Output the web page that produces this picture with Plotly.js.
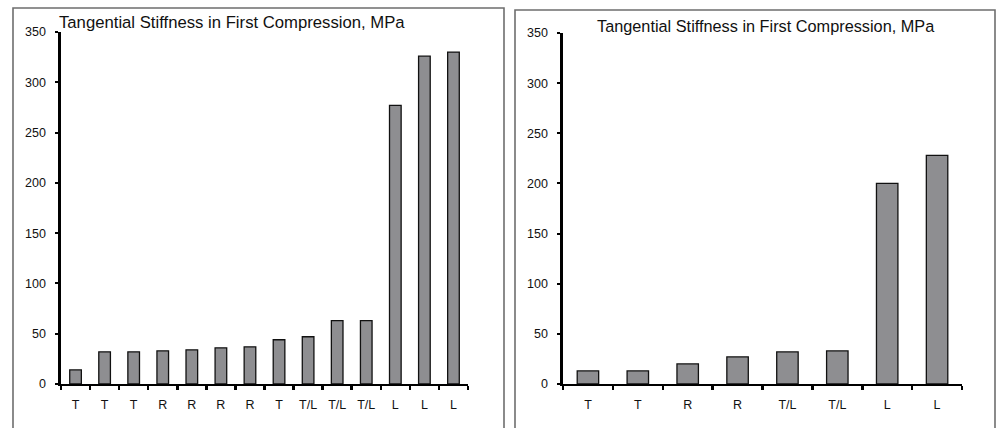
<!DOCTYPE html>
<html>
<head>
<meta charset="utf-8">
<script src="https://cdn.plot.ly/plotly-3.0.1.min.js"></script>
<style>html,body{margin:0;padding:0;background:#fff;}#chart{width:1000px;height:428px;}</style>
</head>
<body>
<div id="chart"></div>
<script>
// Data
const chartTitle = "Tangential Stiffness in First Compression, MPa";
const leftLabels = ["T","T","T","R","R","R","R","T","T/L","T/L","T/L","L","L","L"];
const leftValues = [14, 32, 32, 33, 34, 36, 37, 44, 47, 63, 63, 277, 326, 330];
const rightLabels = ["T","T","R","R","T/L","T/L","L","L"];
const rightValues = [13, 13, 20, 27, 32, 33, 200, 228];
const yTicks = [0, 50, 100, 150, 200, 250, 300, 350];

const W = 1000, H = 428;
const px = x => x / W;
const py = y => 1 - y / H;

const leftIdx = leftLabels.map((_, i) => i);
const rightIdx = rightLabels.map((_, i) => i);

const barStyle = {color: '#8e8e91', line: {color: '#111', width: 1.3}};

const traces = [
  {type: 'bar', x: leftIdx, y: leftValues, xaxis: 'x', yaxis: 'y', width: 0.4,
   marker: barStyle, hoverinfo: 'none'},
  {type: 'bar', x: rightIdx, y: rightValues, xaxis: 'x2', yaxis: 'y2', width: 0.43,
   marker: barStyle, hoverinfo: 'none'}
];

const tickFont = {family: 'Liberation Sans, Arial, sans-serif', size: 12.5, color: '#111'};

function xAxis(n, domain, anchor) {
  return {
    domain: domain, anchor: anchor, range: [-0.5, n - 0.5],
    tickmode: 'array', tickvals: [...Array(n).keys()],
    ticks: '', showgrid: false, zeroline: false,
    showline: true, linecolor: '#000', linewidth: 2.4,
    tickfont: tickFont, ticklabelstandoff: 8,
    minor: {tickmode: 'linear', tick0: -0.5, dtick: 1, ticks: 'outside', ticklen: 4,
            tickwidth: 2.5, tickcolor: '#000', showgrid: false},
    fixedrange: true
  };
}
function yAxis(domain, anchor) {
  return {
    domain: domain, anchor: anchor, range: [0, 350],
    tickmode: 'array', tickvals: yTicks,
    ticks: 'outside', ticklen: 3, tickwidth: 2, tickcolor: '#000',
    showgrid: false, zeroline: false,
    showline: true, linecolor: '#000', linewidth: 2.6,
    tickfont: tickFont, ticklabelstandoff: 7,
    fixedrange: true
  };
}

const xa = xAxis(leftLabels.length, [px(61), px(468)], 'y');
xa.ticktext = leftLabels;
const xa2 = xAxis(rightLabels.length, [px(563), px(962)], 'y2');
xa2.ticktext = rightLabels;

const layout = {
  width: W, height: H,
  margin: {l: 0, r: 0, t: 0, b: 0, pad: 0},
  paper_bgcolor: '#fff', plot_bgcolor: 'rgba(0,0,0,0)',
  showlegend: false,
  xaxis: xa,
  yaxis: yAxis([py(384), py(32)], 'x'),
  xaxis2: xa2,
  yaxis2: yAxis([py(384), py(33)], 'x2'),
  shapes: [
    {type: 'rect', xref: 'paper', yref: 'paper', x0: px(13), x1: px(504), y0: py(432), y1: py(8),
     line: {color: '#6e6e6e', width: 1.6}, fillcolor: 'rgba(0,0,0,0)', layer: 'below'},
    {type: 'rect', xref: 'paper', yref: 'paper', x0: px(515), x1: px(995), y0: py(432), y1: py(10),
     line: {color: '#6e6e6e', width: 1.6}, fillcolor: 'rgba(0,0,0,0)', layer: 'below'}
  ],
  annotations: [
    {text: chartTitle, xref: 'paper', yref: 'paper', x: px(57), y: py(23),
     xanchor: 'left', yanchor: 'middle', showarrow: false,
     font: {family: 'Liberation Sans, Arial, sans-serif', size: 16.7, color: '#111'}},
    {text: chartTitle, xref: 'paper', yref: 'paper', x: px(766), y: py(26),
     xanchor: 'center', yanchor: 'middle', showarrow: false,
     font: {family: 'Liberation Sans, Arial, sans-serif', size: 16.3, color: '#111'}}
  ]
};

Plotly.newPlot('chart', traces, layout, {displayModeBar: false, staticPlot: true});
</script>
</body>
</html>
